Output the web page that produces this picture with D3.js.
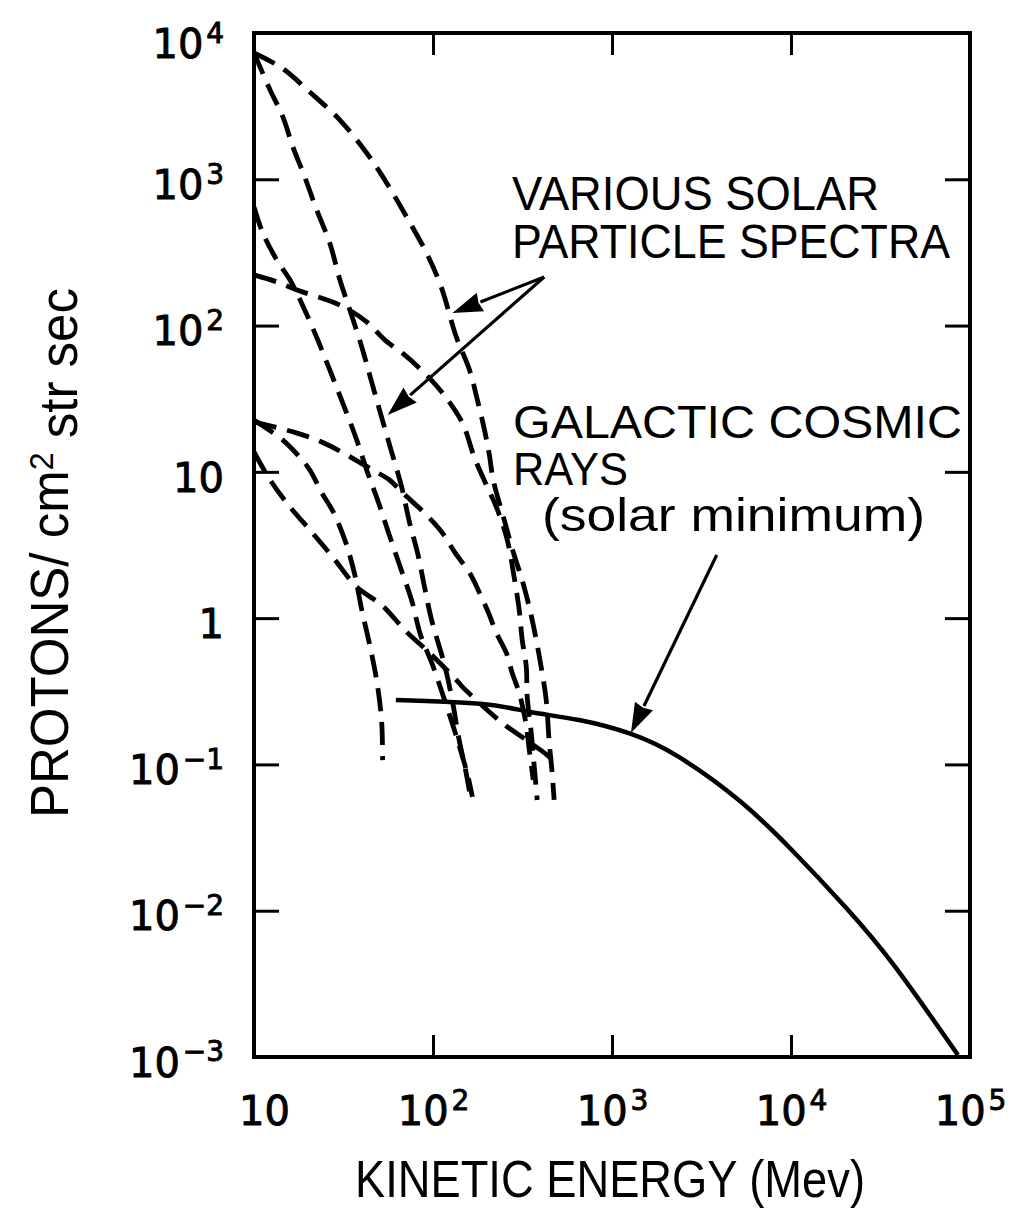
<!DOCTYPE html>
<html><head><meta charset="utf-8">
<script src="https://cdn.jsdelivr.net/npm/d3@7"></script>
<style>body{margin:0;background:#fff}</style>
</head><body>
<svg id="c" width="1021" height="1229"></svg>
<script>
// ---- data (energy in MeV, flux in protons / cm^2 str sec) ----
const xTickValues = [10, 100, 1000, 10000, 100000];
const xTickExponents = ["", "2", "3", "4", "5"];
const yTickValues = [1e4, 1e3, 1e2, 10, 1, 0.1, 0.01, 0.001];
const yTickBases = ["10", "10", "10", "10", "1", "10", "10", "10"];
const yTickExponents = ["4", "3", "2", "", "", "\u22121", "\u22122", "\u22123"];

// galactic cosmic rays (solar minimum) - solid
const gcrEnergy = [62, 189, 345, 655, 1276, 2360, 5100, 10070, 20130, 38200, 85700];
const gcrFlux = [0.276, 0.259, 0.229, 0.201, 0.1615, 0.1125, 0.0571, 0.0261, 0.0106, 0.00413, 0.00103];

// various solar particle spectra - dashed  [energy, flux]
const solarA = [[10,7300],[14.3,5770],[20.5,3950],[30.2,2540],[42.6,1513],[55.1,944],[71.2,553],[92,314],[111,184],[135,83.6],[160,49.7],[177,31.0],[194,19.3],[206,13.3],[217,8.8],[250,4.69],[284,2.70],[315,1.82],[345,1.19],[368,0.83],[402,0.464],[429,0.276],[445,0.147],[463,0.0875],[475,0.0572]];
const solarB = [[10,7300],[10.8,5870],[12.3,4080],[14.5,2670],[16.5,1663],[19.2,1038],[22.4,617],[26.5,367],[30.2,205],[34.3,128],[40,71.4],[45.4,41.2],[51.6,23.7],[58.7,13.7],[66.8,7.9],[74,4.48],[82,2.79],[89.7,1.63],[98.2,0.972],[116,0.479],[128,0.276],[140,0.147],[152,0.0917],[160,0.0649]];
const solarC = [[10,647],[11.2,429],[13.4,281],[15.9,205],[19.2,128],[22.7,79.8],[26.5,49.7],[31.3,29.6],[37.5,16.5],[43.2,9.8],[49.1,6.4],[56.5,3.82],[65.9,2.2],[75.9,1.33],[85.2,0.768],[99.4,0.479],[117,0.267],[137,0.147],[156,0.0848],[166,0.060]];
const solarD = [[10,222],[13.4,199],[17.4,175],[30.2,138],[42.6,106],[53.7,79.8],[69.4,63],[92,45.9],[113,34.6],[146,21.6],[170,12.6],[199,8.1],[226,5.75],[260,3.42],[284,1.91],[303,1.14],[315,0.71],[332,0.464],[336,0.289],[354,0.164],[368,0.0962],[382,0.0572]];
const solarE = [[10,22],[17.4,18.4],[23.9,16.0],[32.1,13.3],[46,10.3],[57.2,8.8],[67.6,7.2],[92,5.07],[113,3.82],[133,2.79],[160,2.04],[182,1.49],[204,1.09],[226,0.793],[257,0.578],[277,0.422],[303,0.308],[328,0.201],[345,0.126],[363,0.0783]];
const solarF = [[10,22.6],[14.5,16.5],[18,12.6],[20.5,10.3],[23.9,7.2],[27.9,5.24],[32.6,3.27],[36.6,1.97],[40,1.14],[44.3,0.656],[48.4,0.378],[51.6,0.201],[52.3,0.107]];
const solarG = [[10,13.7],[12.3,8.8],[15.9,5.75],[21,3.88],[27.5,2.62],[37.5,1.63],[51.6,1.23],[71.2,0.805],[95.7,0.578],[135,0.378],[146,0.339],[244,0.192],[332,0.147],[463,0.107],[475,0.0947]];
const solarSpectra = [solarA, solarB, solarC, solarD, solarE, solarF, solarG];

// annotation arrows, in data units [energy, flux]
const solarArrowApex = [418, 215];
const solarArrowTips = [[128.5, 122], [55.8, 24.5]];
const gcrArrow = [[3846, 2.70], [1276, 0.164]];

// ---- drawing ----
const svg = d3.select("#c");
const X0 = 254, X1 = 970, Y0 = 33, Y1 = 1057;
const x = d3.scaleLog().domain([10, 1e5]).range([X0, X1]);
const y = d3.scaleLog().domain([1e-3, 1e4]).range([Y1, Y0]);
const FONT = "'Liberation Sans', Arial, Helvetica, sans-serif";
const TFONT = "'DejaVu Sans', 'Liberation Sans', sans-serif";

// frame
svg.append("rect").attr("x", X0).attr("y", Y0).attr("width", X1 - X0).attr("height", Y1 - Y0)
  .attr("fill", "none").attr("stroke", "#000").attr("stroke-width", 4);

function styleAxis(g) {
  g.select(".domain").remove();
  g.selectAll(".tick line").attr("stroke", "#000").attr("stroke-width", 3);
  g.selectAll(".tick text").attr("fill", "#000").attr("font-family", TFONT)
    .attr("font-size", 40).attr("stroke", "#000").attr("stroke-width", 0.9);
}

// left axis with labels
const gL = svg.append("g").attr("transform", `translate(${X0},0)`)
  .call(d3.axisLeft(y).tickValues(yTickValues).tickSize(-25).tickPadding(30).tickFormat(() => ""));
styleAxis(gL);
gL.selectAll(".tick text").attr("dy", d => d === 1e4 ? "0.62em" : "0.48em").each(function (d) {
  const i = yTickValues.indexOf(d);
  const t = d3.select(this);
  t.append("tspan").text(yTickBases[i]);
  if (yTickExponents[i]) t.append("tspan").attr("dy", "-0.55em").attr("dx", "0.1em")
    .attr("font-size", 28).text(yTickExponents[i]);
});

// right axis ticks
const gR = svg.append("g").attr("transform", `translate(${X1},0)`)
  .call(d3.axisRight(y).tickValues(yTickValues).tickSize(-25).tickFormat(() => ""));
styleAxis(gR);

// bottom axis with labels
const gB = svg.append("g").attr("transform", `translate(0,${Y1})`)
  .call(d3.axisBottom(x).tickValues(xTickValues).tickSize(-22).tickFormat(() => ""));
styleAxis(gB);
gB.selectAll(".tick text").attr("y", 68).attr("dy", 0).each(function (d) {
  const i = xTickValues.indexOf(d);
  const t = d3.select(this);
  if (!xTickExponents[i]) t.attr("dx", 10);
  t.append("tspan").text("10");
  if (xTickExponents[i]) t.append("tspan").attr("dy", "-0.55em").attr("dx", "0.1em")
    .attr("font-size", 28).text(xTickExponents[i]);
});

// top axis ticks
const gT = svg.append("g").attr("transform", `translate(0,${Y0})`)
  .call(d3.axisTop(x).tickValues(xTickValues).tickSize(-22).tickFormat(() => ""));
styleAxis(gT);

// curves
const line = d3.line().x(d => x(d[0])).y(d => y(d[1])).curve(d3.curveCatmullRom.alpha(0.5));
svg.append("g").selectAll("path").data(solarSpectra).join("path")
  .attr("d", line).attr("fill", "none").attr("stroke", "#000")
  .attr("stroke-width", 4.8).attr("stroke-dasharray", "23 11");

const gcr = gcrEnergy.map((e, i) => [e, gcrFlux[i]]);
const smoothLine = d3.line().x(d => x(d[0])).y(d => y(d[1])).curve(d3.curveNatural);
svg.append("path").datum(gcr).attr("d", smoothLine).attr("fill", "none")
  .attr("stroke", "#000").attr("stroke-width", 4.5);

// arrows
function arrow(from, to) {
  const x1 = x(from[0]), y1 = y(from[1]), x2 = x(to[0]), y2 = y(to[1]);
  const a = Math.atan2(y2 - y1, x2 - x1), L = 30, W = 10;
  const bx = x2 - L * Math.cos(a), by = y2 - L * Math.sin(a);
  svg.append("line").attr("x1", x1).attr("y1", y1).attr("x2", bx).attr("y2", by)
    .attr("stroke", "#000").attr("stroke-width", 3.2);
  const px = -Math.sin(a) * W, py = Math.cos(a) * W;
  svg.append("path").attr("d", `M${x2},${y2}L${bx + px},${by + py}L${bx + 2 * Math.cos(a)},${by + 2 * Math.sin(a)}L${bx - px},${by - py}Z`)
    .attr("fill", "#000");
}
solarArrowTips.forEach(t => arrow(solarArrowApex, t));
arrow(gcrArrow[0], gcrArrow[1]);

// annotation text blocks (one text element per block, one tspan per line)
function block(lines) {
  const t = svg.append("text").attr("font-family", FONT).attr("fill", "#000");
  lines.forEach(l => t.append("tspan").attr("x", l[1]).attr("y", l[2]).attr("font-size", l[3])
    .attr("textLength", l[4]).attr("lengthAdjust", "spacingAndGlyphs").text(l[0]));
}
block([["VARIOUS SOLAR", 512, 210, 48, 367], ["PARTICLE SPECTRA", 512, 258, 48, 438]]);
block([["GALACTIC COSMIC", 513, 438, 47, 449], ["RAYS", 513, 485, 46, 115], ["(solar minimum)", 542, 531, 46, 383]]);

// axis titles
const yt = svg.append("text").attr("transform", "translate(68,553) rotate(-90)")
  .attr("text-anchor", "middle").attr("font-family", FONT).attr("font-size", 54)
  .attr("fill", "#000").attr("textLength", 530).attr("lengthAdjust", "spacingAndGlyphs");
yt.append("tspan").text("PROTONS/ cm");
yt.append("tspan").attr("dy", "-0.45em").attr("font-size", 34).text("2");
yt.append("tspan").attr("dy", "0.45em").text(" str sec");

svg.append("text").attr("x", 610).attr("y", 1197).attr("text-anchor", "middle")
  .attr("font-family", FONT).attr("font-size", 52).attr("fill", "#000")
  .attr("textLength", 510).attr("lengthAdjust", "spacingAndGlyphs")
  .text("KINETIC ENERGY (Mev)");
</script>
</body></html>
